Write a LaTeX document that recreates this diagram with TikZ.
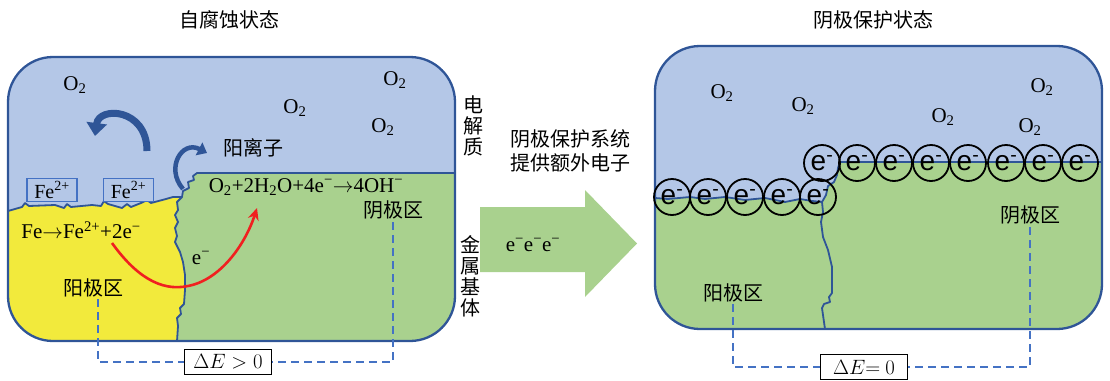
\documentclass[tikz,border=0pt]{standalone}
\usepackage{fontspec}
\setmainfont{Liberation Serif}
\newfontfamily\cjk{Noto Sans CJK SC}
\newfontfamily\arial{Liberation Sans}
\usetikzlibrary{arrows.meta}
\definecolor{elec}{HTML}{B4C7E7}
\definecolor{metal}{HTML}{A9D18E}
\definecolor{anode}{HTML}{F2EA3C}
\definecolor{edge}{HTML}{2F5597}
\definecolor{potblue}{HTML}{4472C4}
\definecolor{flowred}{HTML}{F02020}
\newcommand{\yields}{\ensuremath{\rightarrow}}
\begin{document}
\begin{tikzpicture}[x=1pt,y=-1pt,
  cjktxt/.style={font=\cjk\fontsize{20}{23}\selectfont, inner sep=0pt, align=center},
  latin/.style={font=\fontsize{21}{23}\selectfont, inner sep=0pt},
  panelborder/.style={draw=edge, line width=2.3pt, rounded corners=45pt},
  seam/.style={draw=edge, line width=1.8pt, line join=round},
  potline/.style={draw=potblue, line width=2pt, dash pattern=on 8pt off 5pt},
  dEbox/.style={draw=black, fill=white, line width=1.5pt, minimum width=87pt, minimum height=25pt, inner sep=0pt, font=\fontsize{21}{23}\selectfont},
  ionbox/.style={draw=potblue, fill=elec, line width=1.4pt, minimum width=50pt, minimum height=23pt, inner sep=0pt, font=\fontsize{20}{22}\selectfont},
  electron/.style={circle, draw=black, line width=1.8pt, minimum size=36pt, inner sep=0pt, font=\arial\fontsize{28}{30}\selectfont},
  ionflow/.style={draw=edge, line cap=butt}
]
\useasboundingbox (0,0) rectangle (1110,380);

% ---------- titles ----------
\node[cjktxt] (t1) at (229,20) {自腐蚀状态};
\node[cjktxt] (t2) at (873,20) {阴极保护状态};

% ---------- left panel: free corrosion ----------
\begin{scope}
  \clip[rounded corners=45pt] (8,57) rectangle (455,341);
  \fill[elec] (0,50) rectangle (460,350);
  \fill[anode] (0,211) -- (8,211) -- (22,207) -- (25,203) -- (29,206) -- (55,205) -- (64,208) -- (67,204) -- (71,207)
    -- (92,205) -- (101,206) -- (104,201) -- (108,204) -- (122,208) -- (127,204) -- (131,207) -- (141,203)
    -- (147,200) -- (151,203) -- (166,199) -- (173,197) -- (182,197)
    -- (177,202) -- (178,210) -- (175,215) -- (178,222) -- (175,228) -- (177,236) -- (175,242) -- (180,252)
    -- (183,262) -- (185,275) -- (185,290) -- (184,304) -- (180,308) -- (181,314) -- (177,318) -- (178,326)
    -- (177,341) -- (177,350) -- (0,350) -- cycle;
  \fill[metal] (460,173) -- (197,173) -- (193,176) -- (194,180) -- (188,182) -- (189,188) -- (183,191) -- (182,197)
    -- (177,202) -- (178,210) -- (175,215) -- (178,222) -- (175,228) -- (177,236) -- (175,242) -- (180,252)
    -- (183,262) -- (185,275) -- (185,290) -- (184,304) -- (180,308) -- (181,314) -- (177,318) -- (178,326)
    -- (177,341) -- (177,350) -- (460,350) -- cycle;
\end{scope}
% metal / electrolyte seams
\draw[seam] (8,211) -- (22,207) -- (25,203) -- (29,206) -- (55,205) -- (64,208) -- (67,204) -- (71,207)
    -- (92,205) -- (101,206) -- (104,201) -- (108,204) -- (122,208) -- (127,204) -- (131,207) -- (141,203)
    -- (147,200) -- (151,203) -- (166,199) -- (173,197) -- (182,197);
\draw[seam] (455,173) -- (197,173) -- (193,176) -- (194,180) -- (188,182) -- (189,188) -- (183,191) -- (182,197)
    -- (177,202) -- (178,210) -- (175,215) -- (178,222) -- (175,228) -- (177,236) -- (175,242) -- (180,252)
    -- (183,262) -- (185,275) -- (185,290) -- (184,304) -- (180,308) -- (181,314) -- (177,318) -- (178,326)
    -- (177,341);
\draw[panelborder] (8,57) rectangle (455,341);

% dissolved oxygen
\node[latin] (oL1) at (75,85)  {O\textsubscript{2}};
\node[latin] (oL2) at (295,108) {O\textsubscript{2}};
\node[latin] (oL3) at (395,80)  {O\textsubscript{2}};
\node[latin] (oL4) at (383,127) {O\textsubscript{2}};

% ferrous ions
\node[ionbox] (fe1) at (52,190)  {Fe\textsuperscript{2+}};
\node[ionbox] (fe2) at (128.5,190) {Fe\textsuperscript{2+}};

% ion flow arrows
\draw[ionflow, line width=7pt, -{Triangle[width=20pt,length=13pt]}] (147,151) .. controls (147,108) and (99,106) .. (95,136);
\draw[ionflow, line width=4.5pt, -{Triangle[width=14pt,length=9pt]}] (183,189) .. controls (165,168) and (182,140) .. (207,153);
\node[cjktxt] (cat) at (253,148) {阳离子};

% reactions
\node[latin] (rxA) at (81,230) {Fe\yields Fe\textsuperscript{2+}+2e\textsuperscript{−}};
\node[latin] (rxC) at (306,187) {O\textsubscript{2}+2H\textsubscript{2}O+4e\textsuperscript{−}\yields 4OH\textsuperscript{−}};
\node[latin] (eL) at (201,258) {e\textsuperscript{−}};

% electron path through the metal
\coordinate (eStart) at (112,243);
\coordinate (eEnd) at (257,208);
\draw[flowred, line width=2.6pt, -{Stealth[length=12pt,width=11pt]}] (eStart) .. controls (135,275) and (160,292) .. (188,286)
   .. controls (220,280) and (245,245) .. (eEnd);

% zone labels and potential difference
\node[cjktxt] (anL) at (93,288) {阳极区};
\node[cjktxt] (caL) at (393,210) {阴极区};
\node[dEbox] (dE1) at (228,362) {$\Delta E > 0$};
\draw[potline] ([xshift=5pt,yshift=-2pt]anL.south) |- (dE1.west);
\draw[potline] ([yshift=-3pt]caL.south) |- (dE1.east);

% side labels
\node[cjktxt, font=\cjk\fontsize{20}{21}\selectfont] (elyte) at (473,126) {电\\解\\质};
\node[cjktxt, font=\cjk\fontsize{20}{21}\selectfont] (metl) at (470,276) {金\\属\\基\\体};

% ---------- transition arrow ----------
\node[cjktxt, font=\cjk\fontsize{20}{24}\selectfont] (cpText) at (570,151) {阴极保护系统\\提供额外电子};
\fill[metal] (480,207) -- (585,207) -- (585,190) -- (637,243.5) -- (585,297) -- (585,272) -- (480,272) -- cycle;
\node[latin] (eee) at (533,245) {e\textsuperscript{−}e\textsuperscript{−}e\textsuperscript{−}};

% ---------- right panel: cathodic protection ----------
\begin{scope}
  \clip[rounded corners=45pt] (655,46) rectangle (1102,329);
  \fill[elec] (650,40) rectangle (1110,335);
  \fill[metal] (650,198) -- (655,198) -- (668,199) -- (690,197) -- (705,199) -- (725,197) -- (745,200) -- (765,198)
    -- (785,202) -- (800,199) -- (812,201) -- (822,202) -- (826,195) -- (828,186) -- (834,182) -- (837,175)
    -- (838,168) -- (840,162) -- (1110,162) -- (1110,335) -- (650,335) -- cycle;
\end{scope}
\draw[seam] (655,198) -- (668,199) -- (690,197) -- (705,199) -- (725,197) -- (745,200) -- (765,198)
    -- (785,202) -- (800,199) -- (812,201) -- (822,202) -- (826,195) -- (828,186) -- (834,182) -- (837,175)
    -- (838,168) -- (840,162) -- (1102,162);
\draw[seam] (822,202) -- (823,212) -- (821,222) -- (823,237) -- (828,250) -- (832,267) -- (832,293) -- (829,297)
    -- (830,302) -- (824,304) -- (822,308) -- (825,329);
\draw[panelborder] (655,46) rectangle (1102,329);

\node[latin] (oR1) at (722,93)  {O\textsubscript{2}};
\node[latin] (oR2) at (803,106) {O\textsubscript{2}};
\node[latin] (oR3) at (943,117) {O\textsubscript{2}};
\node[latin] (oR4) at (1042,87) {O\textsubscript{2}};
\node[latin] (oR5) at (1030,127) {O\textsubscript{2}};

% surplus electrons on the metal surface
\foreach \x [count=\i] in {672,708,745,782,818}
  \node[electron] (eb\i) at (\x,197) {e\textsuperscript{-}};
\foreach \x [count=\i] in {822,857,894,931,968,1006,1043,1080}
  \node[electron] (et\i) at (\x,163) {e\textsuperscript{-}};

\node[cjktxt] (anR) at (733,293) {阳极区};
\node[cjktxt] (caR) at (1030,215) {阴极区};
\node[dEbox] (dE2) at (864,367) {$\Delta E{=}\ 0$};
\draw[potline] ([yshift=-2pt]anR.south) |- (dE2.west);
\draw[potline] ([yshift=-3pt]caR.south) |- (dE2.east);
\end{tikzpicture}
\end{document}
